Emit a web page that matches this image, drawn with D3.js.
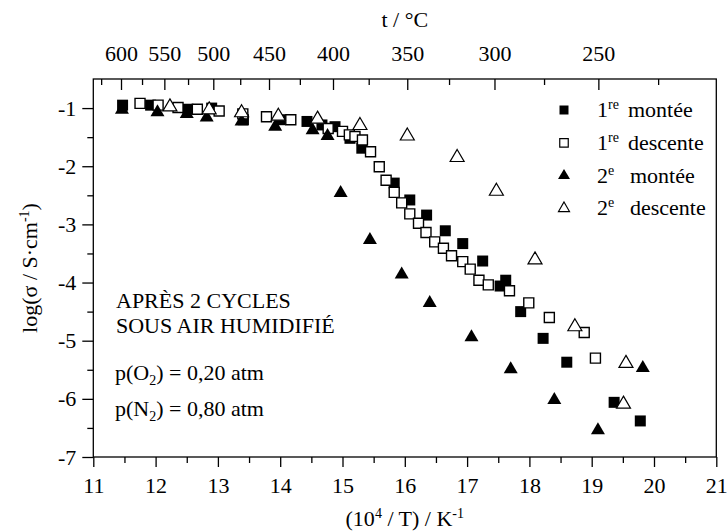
<!DOCTYPE html>
<html><head><meta charset="utf-8">
<script src="https://cdn.jsdelivr.net/npm/d3@7"></script>
<style>
body{margin:0;background:#fff}
svg text{font-family:"Liberation Serif","Times New Roman",serif;fill:#000}
</style></head><body>
<svg id="c" width="728" height="532"></svg>
<script>
// ---------- data ----------
const xMajorTicks = [11,12,13,14,15,16,17,18,19,20,21];
const xMinorTicks = [11.5,12.5,13.5,14.5,15.5,16.5,17.5,18.5,19.5,20.5];
const yMajorTicks = [-1,-2,-3,-4,-5,-6,-7];
const yMinorTicks = [-1.5,-2.5,-3.5,-4.5,-5.5,-6.5];
const tempMajorTicks = [600,550,500,450,400,350,300,250];
const tempMinorTicks = [625,575,525,475,425,375,325,275,225];

const premiereMontee = [[11.47,-0.95],[11.92,-0.95],[12.52,-1.02],[12.9,-1.0],[13.41,-1.2],[14.0,-1.2],
 [14.43,-1.23],[14.67,-1.29],[14.88,-1.32],[15.12,-1.52],[15.31,-1.69],[15.83,-2.29],[16.08,-2.58],
 [16.35,-2.84],[16.65,-3.11],[16.93,-3.33],[17.25,-3.63],[17.53,-4.06],[17.62,-3.96],[17.86,-4.5],
 [18.22,-4.96],[18.6,-5.37],[19.36,-6.06],[19.78,-6.38]];
const premiereDescente = [[11.75,-0.92],[12.04,-0.95],[12.36,-0.99],[12.67,-1.02],[13.02,-1.05],[13.4,-1.1],
 [13.78,-1.15],[14.17,-1.2],[14.77,-1.35],[15.0,-1.4],[15.11,-1.46],[15.2,-1.49],[15.32,-1.55],[15.45,-1.75],
 [15.59,-2.01],[15.7,-2.24],[15.83,-2.45],[15.95,-2.63],[16.08,-2.82],[16.22,-2.98],[16.34,-3.14],[16.48,-3.3],
 [16.62,-3.41],[16.75,-3.54],[16.93,-3.64],[17.05,-3.77],[17.19,-3.96],[17.34,-4.04],[17.68,-4.14],
 [17.99,-4.35],[18.32,-4.6],[18.88,-4.86],[19.06,-5.3]];
const deuxiemeMontee = [[11.46,-1.03],[12.03,-1.07],[12.5,-1.1],[12.82,-1.16],[13.38,-1.23],[13.92,-1.32],
 [14.52,-1.38],[14.76,-1.48],[14.97,-2.46],[15.44,-3.27],[15.95,-3.86],[16.4,-4.35],[17.07,-4.94],
 [17.7,-5.49],[18.4,-6.02],[19.1,-6.54],[19.82,-5.47]];
const deuxiemeDescente = [[12.23,-0.98],[12.86,-1.03],[13.38,-1.08],[13.97,-1.14],[14.6,-1.19],[15.28,-1.3],
 [16.04,-1.48],[16.84,-1.85],[17.47,-2.43],[18.09,-3.61],[18.73,-4.76],[19.55,-5.39],[19.51,-6.09]];

const legendLabels = [["1","re","montée"],["1","re","descente"],["2","e","montée"],["2","e","descente"]];
const annotationLines = ["APRÈS 2 CYCLES","SOUS AIR HUMIDIFIÉ"];
const gasLines = [["p(O","2",") = 0,20 atm"],["p(N","2",") = 0,80 atm"]];

// ---------- layout ----------
const L = 93.3, R = 716.3, T = 79, B = 457;
const FS = 22, SFS = 14;
const svg = d3.select("#c");
const x = d3.scaleLinear().domain([11,21]).range([L,R]);
const y = d3.scaleLinear().domain([-7,-0.5]).range([B,T]);
const tx = t => x(1e4/(t+273.15));

function styleAxis(g){
  g.select(".domain").remove();
  g.selectAll("line").attr("stroke","#000").attr("stroke-width",1.3);
  g.selectAll("text").attr("font-size",FS).attr("fill","#000")
   .attr("font-family",'"Liberation Serif","Times New Roman",serif');
}

svg.append("g").attr("transform",`translate(0,${B})`)
  .call(d3.axisBottom(x).tickValues(xMajorTicks).tickSize(10).tickPadding(10).tickFormat(d=>String(d)))
  .call(styleAxis);
svg.append("g").attr("transform",`translate(0,${B})`)
  .call(d3.axisBottom(x).tickValues(xMinorTicks).tickSize(6).tickFormat(""))
  .call(styleAxis);
svg.append("g").attr("transform",`translate(${L},0)`)
  .call(d3.axisLeft(y).tickValues(yMajorTicks).tickSize(11).tickPadding(6).tickFormat(d=>String(d)))
  .call(styleAxis);
svg.append("g").attr("transform",`translate(${L},0)`)
  .call(d3.axisLeft(y).tickValues(yMinorTicks).tickSize(6).tickFormat(""))
  .call(styleAxis);

const topAxis = svg.append("g");
topAxis.selectAll("line.maj").data(tempMajorTicks).join("line").attr("class","maj")
  .attr("x1",tx).attr("x2",tx).attr("y1",T).attr("y2",T+11)
  .attr("stroke","#000").attr("stroke-width",1.3);
topAxis.selectAll("line.min").data(tempMinorTicks).join("line").attr("class","min")
  .attr("x1",tx).attr("x2",tx).attr("y1",T).attr("y2",T+6)
  .attr("stroke","#000").attr("stroke-width",1.3);
topAxis.selectAll("text").data(tempMajorTicks).join("text")
  .attr("x",tx).attr("y",61).attr("text-anchor","middle").attr("font-size",FS).text(d=>d);

svg.append("rect").attr("x",L).attr("y",T).attr("width",R-L).attr("height",B-T)
  .attr("fill","none").attr("stroke","#000").attr("stroke-width",1.3);

svg.append("text").attr("x",(L+R)/2).attr("y",27).attr("text-anchor","middle").attr("font-size",FS).text("t / °C");
const xt = svg.append("text").attr("x",(L+R)/2).attr("y",526).attr("text-anchor","middle").attr("font-size",FS);
xt.append("tspan").text("(10");
xt.append("tspan").attr("dy",-8).attr("font-size",SFS).text("4");
xt.append("tspan").attr("dy",8).text(" / T) / K");
xt.append("tspan").attr("dy",-8).attr("font-size",SFS).text("-1");
const yt = svg.append("text").attr("transform",`translate(37,${(T+B)/2}) rotate(-90)`)
  .attr("text-anchor","middle").attr("font-size",FS);
yt.append("tspan").text("log(σ / S·cm");
yt.append("tspan").attr("dy",-8).attr("font-size",SFS).text("-1");
yt.append("tspan").attr("dy",8).text(")");

svg.selectAll("text.ann").data(annotationLines).join("text").attr("class","ann")
  .attr("x",116).attr("y",(d,i)=>308+i*25).attr("font-size",FS).text(d=>d);
svg.selectAll("text.gas").data(gasLines).join("text").attr("class","gas")
  .attr("x",115).attr("y",(d,i)=>380+i*36).attr("font-size",FS)
  .each(function(d){
    const t = d3.select(this);
    t.append("tspan").text(d[0]);
    t.append("tspan").attr("dy",5).attr("font-size",SFS).text(d[1]);
    t.append("tspan").attr("dy",-5).text(d[2]);
  });

const sq = (s)=>d3.symbol(d3.symbolSquare, s*s)();
function tri(w,h){ return `M0,${-2*h/3}L${w/2},${h/3}L${-w/2},${h/3}Z`; }
const series = [
  {data:premiereMontee, path:sq(11), fill:"#000", stroke:"none", sw:0},
  {data:premiereDescente, path:sq(10), fill:"#fff", stroke:"#000", sw:1.4},
  {data:deuxiemeMontee, path:tri(14,12), fill:"#000", stroke:"none", sw:0},
  {data:deuxiemeDescente, path:tri(14,12), fill:"#fff", stroke:"#000", sw:1.2}
];
const legendPaths = [sq(9), sq(8.5), tri(12,10), tri(11,9.5)];
series.forEach(s=>{
  svg.append("g").selectAll("path").data(s.data).join("path")
    .attr("d",s.path).attr("transform",d=>`translate(${x(d[0])},${y(d[1])})`)
    .attr("fill",s.fill).attr("stroke",s.stroke).attr("stroke-width",s.sw);
});

const lg = svg.append("g");
legendLabels.forEach((lab,i)=>{
  const cy = 110 + i*32.8;
  const s = series[i];
  lg.append("path").attr("d",legendPaths[i]).attr("transform",`translate(564,${cy})`)
    .attr("fill",s.fill).attr("stroke",s.stroke).attr("stroke-width",s.sw?1.2:0);
  const t = lg.append("text").attr("x",597).attr("y",cy+7).attr("font-size",FS);
  t.append("tspan").text(lab[0]);
  t.append("tspan").attr("dy",-8).attr("font-size",SFS).text(lab[1]);
  t.append("tspan").attr("dy",8).attr("x", i<2?628:630).text(lab[2]);
});
</script>
</body></html>
